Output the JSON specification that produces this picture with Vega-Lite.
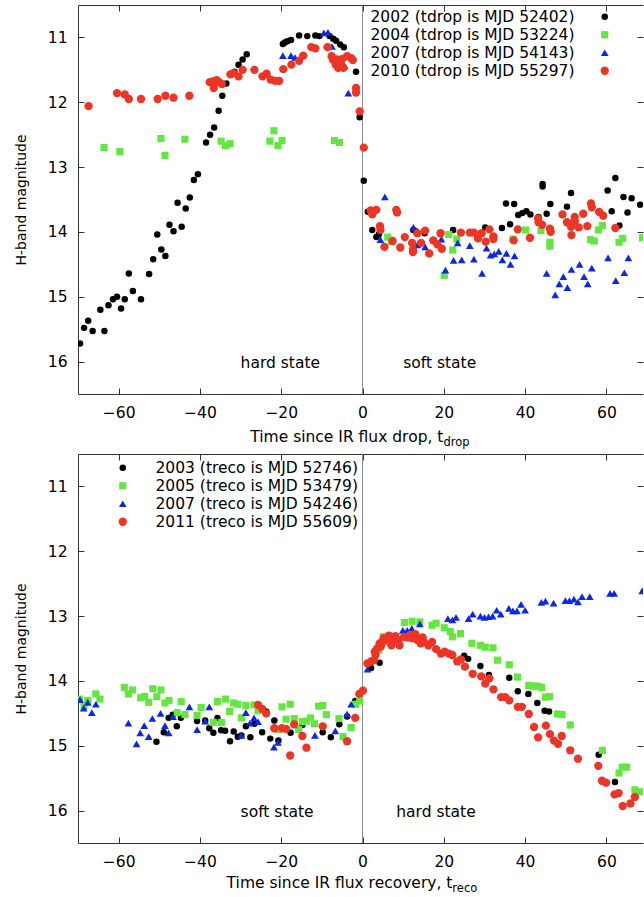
{
"$schema":"https://vega.github.io/schema/vega-lite/v6.json",
"background":"white",
"padding":{"left":14,"top":4,"right":0,"bottom":0},
"config":{
 "font":"DejaVu Sans",
 "view":{"stroke":null},
 "axis":{"labelFont":"DejaVu Sans","labelFontSize":15.5,"labelColor":"#000","domainColor":"#333","tickColor":"#333","tickSize":-6,"labelPadding":17,"grid":false,"titleFont":"DejaVu Sans","titleFontWeight":"normal","titleColor":"#000","titleFontSize":14,"titlePadding":19,"domainWidth":1,"tickWidth":1},
 "legend":{"labelFont":"DejaVu Sans","labelFontSize":15.5,"labelColor":"#000","padding":0,"symbolStrokeWidth":0,"labelLimit":400,"title":null,"symbolSize":45,"rowPadding":1}
},
"datasets":{
"top":[
{"t":-69.5,"mag":15.72,"yr":"2002"},{"t":-68.5,"mag":15.48,"yr":"2002"},{"t":-67.5,"mag":15.37,"yr":"2002"},{"t":-66.4,"mag":15.53,"yr":"2002"},{"t":-64.5,"mag":15.2,"yr":"2002"},{"t":-63.5,"mag":15.53,"yr":"2002"},{"t":-62.5,"mag":15.13,"yr":"2002"},{"t":-61.4,"mag":15.04,"yr":"2002"},{"t":-60.4,"mag":15.0,"yr":"2002"},{"t":-59.4,"mag":15.18,"yr":"2002"},{"t":-58.5,"mag":15.04,"yr":"2002"},{"t":-57.5,"mag":14.64,"yr":"2002"},{"t":-56.5,"mag":14.91,"yr":"2002"},{"t":-54.5,"mag":15.04,"yr":"2002"},{"t":-52.5,"mag":14.65,"yr":"2002"},{"t":-51.5,"mag":14.42,"yr":"2002"},{"t":-50.5,"mag":14.04,"yr":"2002"},{"t":-49.5,"mag":14.27,"yr":"2002"},{"t":-48.5,"mag":14.37,"yr":"2002"},{"t":-47.5,"mag":13.89,"yr":"2002"},{"t":-46.5,"mag":13.99,"yr":"2002"},{"t":-45.5,"mag":13.55,"yr":"2002"},{"t":-44.5,"mag":13.92,"yr":"2002"},{"t":-43.5,"mag":13.64,"yr":"2002"},{"t":-42.5,"mag":13.47,"yr":"2002"},{"t":-41.5,"mag":13.2,"yr":"2002"},{"t":-40.5,"mag":13.11,"yr":"2002"},{"t":-38.5,"mag":12.62,"yr":"2002"},{"t":-37.5,"mag":12.5,"yr":"2002"},{"t":-36.5,"mag":12.39,"yr":"2002"},{"t":-35.4,"mag":12.13,"yr":"2002"},{"t":-34.5,"mag":11.9,"yr":"2002"},{"t":-33.5,"mag":11.71,"yr":"2002"},{"t":-31.5,"mag":11.53,"yr":"2002"},{"t":-30.5,"mag":11.42,"yr":"2002"},{"t":-29.5,"mag":11.34,"yr":"2002"},{"t":-28.5,"mag":11.26,"yr":"2002"},{"t":-19.6,"mag":11.1,"yr":"2002"},{"t":-19.1,"mag":11.08,"yr":"2002"},{"t":-18.5,"mag":11.06,"yr":"2002"},{"t":-17.6,"mag":11.04,"yr":"2002"},{"t":-15.6,"mag":10.97,"yr":"2002"},{"t":-13.6,"mag":10.98,"yr":"2002"},{"t":-11.6,"mag":10.97,"yr":"2002"},{"t":-10.6,"mag":10.98,"yr":"2002"},{"t":-8.1,"mag":10.98,"yr":"2002"},{"t":-7.2,"mag":11.02,"yr":"2002"},{"t":-6.5,"mag":11.05,"yr":"2002"},{"t":-5.5,"mag":11.11,"yr":"2002"},{"t":-4.6,"mag":11.15,"yr":"2002"},{"t":-1.6,"mag":11.53,"yr":"2002"},{"t":-0.7,"mag":12.23,"yr":"2002"},{"t":0.3,"mag":13.21,"yr":"2002"},{"t":1.3,"mag":13.69,"yr":"2002"},{"t":2.4,"mag":13.97,"yr":"2002"},{"t":3.4,"mag":14.08,"yr":"2002"},{"t":4.0,"mag":14.04,"yr":"2002"},{"t":12.5,"mag":13.97,"yr":"2002"},{"t":13.1,"mag":13.99,"yr":"2002"},{"t":15.3,"mag":14.02,"yr":"2002"},{"t":22.3,"mag":13.97,"yr":"2002"},{"t":30.2,"mag":13.93,"yr":"2002"},{"t":34.3,"mag":13.94,"yr":"2002"},{"t":35.3,"mag":13.56,"yr":"2002"},{"t":36.3,"mag":13.88,"yr":"2002"},{"t":37.3,"mag":13.57,"yr":"2002"},{"t":38.3,"mag":13.74,"yr":"2002"},{"t":39.3,"mag":13.71,"yr":"2002"},{"t":40.3,"mag":13.68,"yr":"2002"},{"t":41.3,"mag":13.73,"yr":"2002"},{"t":43.3,"mag":13.77,"yr":"2002"},{"t":44.3,"mag":13.26,"yr":"2002"},{"t":44.3,"mag":13.3,"yr":"2002"},{"t":45.3,"mag":13.72,"yr":"2002"},{"t":46.2,"mag":13.57,"yr":"2002"},{"t":50.3,"mag":13.61,"yr":"2002"},{"t":51.3,"mag":13.4,"yr":"2002"},{"t":52.3,"mag":13.83,"yr":"2002"},{"t":60.3,"mag":13.36,"yr":"2002"},{"t":61.3,"mag":13.68,"yr":"2002"},{"t":62.2,"mag":13.17,"yr":"2002"},{"t":63.2,"mag":13.9,"yr":"2002"},{"t":64.2,"mag":13.46,"yr":"2002"},{"t":65.2,"mag":13.7,"yr":"2002"},{"t":66.2,"mag":13.48,"yr":"2002"},{"t":68.3,"mag":13.58,"yr":"2002"},
{"t":-63.6,"mag":12.7,"yr":"2004"},{"t":-59.7,"mag":12.76,"yr":"2004"},{"t":-49.6,"mag":12.56,"yr":"2004"},{"t":-48.6,"mag":12.82,"yr":"2004"},{"t":-43.7,"mag":12.57,"yr":"2004"},{"t":-34.8,"mag":12.6,"yr":"2004"},{"t":-33.7,"mag":12.67,"yr":"2004"},{"t":-32.6,"mag":12.64,"yr":"2004"},{"t":-22.8,"mag":12.6,"yr":"2004"},{"t":-21.8,"mag":12.44,"yr":"2004"},{"t":-20.8,"mag":12.67,"yr":"2004"},{"t":-19.8,"mag":12.59,"yr":"2004"},{"t":-6.9,"mag":12.59,"yr":"2004"},{"t":-5.7,"mag":12.62,"yr":"2004"},{"t":6.2,"mag":14.08,"yr":"2004"},{"t":7.1,"mag":14.15,"yr":"2004"},{"t":20.1,"mag":14.67,"yr":"2004"},{"t":21.2,"mag":14.04,"yr":"2004"},{"t":22.2,"mag":14.28,"yr":"2004"},{"t":23.2,"mag":14.11,"yr":"2004"},{"t":37.0,"mag":14.11,"yr":"2004"},{"t":40.1,"mag":13.97,"yr":"2004"},{"t":43.9,"mag":13.98,"yr":"2004"},{"t":46.1,"mag":14.16,"yr":"2004"},{"t":46.1,"mag":14.22,"yr":"2004"},{"t":56.1,"mag":14.12,"yr":"2004"},{"t":57.0,"mag":14.14,"yr":"2004"},{"t":58.0,"mag":13.97,"yr":"2004"},{"t":59.0,"mag":13.9,"yr":"2004"},{"t":63.1,"mag":14.16,"yr":"2004"},{"t":64.0,"mag":14.1,"yr":"2004"},{"t":68.9,"mag":14.09,"yr":"2004"},
{"t":-19.6,"mag":11.28,"yr":"2007"},{"t":-17.6,"mag":11.28,"yr":"2007"},{"t":-16.6,"mag":11.31,"yr":"2007"},{"t":-9.5,"mag":10.93,"yr":"2007"},{"t":-8.5,"mag":10.92,"yr":"2007"},{"t":-7.5,"mag":11.14,"yr":"2007"},{"t":-4.4,"mag":11.44,"yr":"2007"},{"t":-3.5,"mag":11.86,"yr":"2007"},{"t":4.4,"mag":14.12,"yr":"2007"},{"t":5.5,"mag":13.46,"yr":"2007"},{"t":12.5,"mag":13.93,"yr":"2007"},{"t":13.5,"mag":14.2,"yr":"2007"},{"t":15.4,"mag":14.23,"yr":"2007"},{"t":19.4,"mag":14.11,"yr":"2007"},{"t":20.4,"mag":14.59,"yr":"2007"},{"t":22.4,"mag":14.44,"yr":"2007"},{"t":23.4,"mag":14.17,"yr":"2007"},{"t":24.4,"mag":14.43,"yr":"2007"},{"t":26.4,"mag":14.21,"yr":"2007"},{"t":27.4,"mag":14.42,"yr":"2007"},{"t":29.4,"mag":14.64,"yr":"2007"},{"t":30.5,"mag":14.25,"yr":"2007"},{"t":31.5,"mag":14.36,"yr":"2007"},{"t":32.4,"mag":14.34,"yr":"2007"},{"t":33.5,"mag":14.3,"yr":"2007"},{"t":34.4,"mag":14.43,"yr":"2007"},{"t":35.4,"mag":14.33,"yr":"2007"},{"t":36.4,"mag":14.5,"yr":"2007"},{"t":37.4,"mag":14.37,"yr":"2007"},{"t":45.3,"mag":14.64,"yr":"2007"},{"t":47.4,"mag":14.97,"yr":"2007"},{"t":48.4,"mag":14.8,"yr":"2007"},{"t":49.4,"mag":14.69,"yr":"2007"},{"t":50.4,"mag":14.86,"yr":"2007"},{"t":51.4,"mag":14.58,"yr":"2007"},{"t":53.4,"mag":14.5,"yr":"2007"},{"t":54.5,"mag":14.69,"yr":"2007"},{"t":55.4,"mag":14.8,"yr":"2007"},{"t":56.4,"mag":14.56,"yr":"2007"},{"t":60.4,"mag":14.4,"yr":"2007"},{"t":62.3,"mag":14.75,"yr":"2007"},{"t":64.4,"mag":14.63,"yr":"2007"},{"t":65.4,"mag":14.4,"yr":"2007"},
{"t":-67.4,"mag":12.06,"yr":"2010"},{"t":-60.4,"mag":11.86,"yr":"2010"},{"t":-58.5,"mag":11.88,"yr":"2010"},{"t":-57.5,"mag":11.95,"yr":"2010"},{"t":-54.5,"mag":11.95,"yr":"2010"},{"t":-50.4,"mag":11.95,"yr":"2010"},{"t":-48.5,"mag":11.9,"yr":"2010"},{"t":-46.5,"mag":11.93,"yr":"2010"},{"t":-42.6,"mag":11.9,"yr":"2010"},{"t":-37.6,"mag":11.69,"yr":"2010"},{"t":-36.8,"mag":11.68,"yr":"2010"},{"t":-36.6,"mag":11.78,"yr":"2010"},{"t":-35.9,"mag":11.66,"yr":"2010"},{"t":-35.3,"mag":11.69,"yr":"2010"},{"t":-34.6,"mag":11.72,"yr":"2010"},{"t":-32.5,"mag":11.57,"yr":"2010"},{"t":-31.7,"mag":11.55,"yr":"2010"},{"t":-30.5,"mag":11.6,"yr":"2010"},{"t":-29.5,"mag":11.5,"yr":"2010"},{"t":-26.6,"mag":11.5,"yr":"2010"},{"t":-24.6,"mag":11.6,"yr":"2010"},{"t":-23.6,"mag":11.56,"yr":"2010"},{"t":-22.6,"mag":11.65,"yr":"2010"},{"t":-21.5,"mag":11.67,"yr":"2010"},{"t":-20.5,"mag":11.67,"yr":"2010"},{"t":-19.5,"mag":11.49,"yr":"2010"},{"t":-17.5,"mag":11.42,"yr":"2010"},{"t":-15.6,"mag":11.36,"yr":"2010"},{"t":-14.6,"mag":11.28,"yr":"2010"},{"t":-12.6,"mag":11.15,"yr":"2010"},{"t":-11.6,"mag":11.17,"yr":"2010"},{"t":-8.6,"mag":11.15,"yr":"2010"},{"t":-7.6,"mag":11.29,"yr":"2010"},{"t":-7.3,"mag":11.34,"yr":"2010"},{"t":-6.6,"mag":11.42,"yr":"2010"},{"t":-6.3,"mag":11.34,"yr":"2010"},{"t":-6.0,"mag":11.47,"yr":"2010"},{"t":-5.4,"mag":11.39,"yr":"2010"},{"t":-5.0,"mag":11.33,"yr":"2010"},{"t":-4.7,"mag":11.47,"yr":"2010"},{"t":-3.8,"mag":11.29,"yr":"2010"},{"t":-2.8,"mag":11.32,"yr":"2010"},{"t":-2.4,"mag":11.35,"yr":"2010"},{"t":-1.6,"mag":11.78,"yr":"2010"},{"t":-1.6,"mag":11.85,"yr":"2010"},{"t":-0.7,"mag":12.14,"yr":"2010"},{"t":0.3,"mag":12.7,"yr":"2010"},{"t":2.0,"mag":13.67,"yr":"2010"},{"t":2.4,"mag":13.73,"yr":"2010"},{"t":3.4,"mag":13.66,"yr":"2010"},{"t":4.3,"mag":13.91,"yr":"2010"},{"t":4.4,"mag":13.97,"yr":"2010"},{"t":5.4,"mag":14.23,"yr":"2010"},{"t":7.4,"mag":14.14,"yr":"2010"},{"t":8.3,"mag":13.66,"yr":"2010"},{"t":8.5,"mag":13.7,"yr":"2010"},{"t":9.3,"mag":14.24,"yr":"2010"},{"t":10.4,"mag":14.08,"yr":"2010"},{"t":12.2,"mag":14.17,"yr":"2010"},{"t":12.4,"mag":14.27,"yr":"2010"},{"t":12.4,"mag":14.31,"yr":"2010"},{"t":13.5,"mag":14.02,"yr":"2010"},{"t":14.4,"mag":14.17,"yr":"2010"},{"t":15.4,"mag":13.98,"yr":"2010"},{"t":16.4,"mag":14.33,"yr":"2010"},{"t":17.4,"mag":14.13,"yr":"2010"},{"t":18.4,"mag":14.19,"yr":"2010"},{"t":19.2,"mag":14.02,"yr":"2010"},{"t":19.5,"mag":14.26,"yr":"2010"},{"t":24.2,"mag":14.01,"yr":"2010"},{"t":26.4,"mag":14.01,"yr":"2010"},{"t":27.4,"mag":14.01,"yr":"2010"},{"t":28.4,"mag":14.1,"yr":"2010"},{"t":29.3,"mag":14.02,"yr":"2010"},{"t":30.3,"mag":14.15,"yr":"2010"},{"t":31.2,"mag":13.96,"yr":"2010"},{"t":32.2,"mag":14.07,"yr":"2010"},{"t":32.2,"mag":14.11,"yr":"2010"},{"t":37.2,"mag":14.13,"yr":"2010"},{"t":38.2,"mag":13.96,"yr":"2010"},{"t":41.2,"mag":14.09,"yr":"2010"},{"t":43.2,"mag":13.79,"yr":"2010"},{"t":43.3,"mag":13.85,"yr":"2010"},{"t":44.2,"mag":13.89,"yr":"2010"},{"t":46.1,"mag":13.95,"yr":"2010"},{"t":46.3,"mag":14.0,"yr":"2010"},{"t":49.2,"mag":13.73,"yr":"2010"},{"t":50.3,"mag":13.85,"yr":"2010"},{"t":51.3,"mag":13.92,"yr":"2010"},{"t":51.4,"mag":14.05,"yr":"2010"},{"t":52.2,"mag":13.77,"yr":"2010"},{"t":52.2,"mag":13.83,"yr":"2010"},{"t":53.2,"mag":13.93,"yr":"2010"},{"t":54.3,"mag":13.72,"yr":"2010"},{"t":55.3,"mag":13.91,"yr":"2010"},{"t":56.2,"mag":13.56,"yr":"2010"},{"t":56.4,"mag":13.62,"yr":"2010"},{"t":58.2,"mag":13.69,"yr":"2010"},{"t":59.2,"mag":13.75,"yr":"2010"},{"t":62.2,"mag":13.94,"yr":"2010"}
],
"bottom":[
{"t":-50.7,"mag":14.94,"yr":"2003"},{"t":-48.9,"mag":14.79,"yr":"2003"},{"t":-47.7,"mag":14.57,"yr":"2003"},{"t":-46.7,"mag":14.52,"yr":"2003"},{"t":-45.7,"mag":14.7,"yr":"2003"},{"t":-44.7,"mag":14.57,"yr":"2003"},{"t":-40.7,"mag":14.62,"yr":"2003"},{"t":-38.7,"mag":14.61,"yr":"2003"},{"t":-37.7,"mag":14.73,"yr":"2003"},{"t":-36.7,"mag":14.8,"yr":"2003"},{"t":-35.7,"mag":14.57,"yr":"2003"},{"t":-34.8,"mag":14.76,"yr":"2003"},{"t":-33.8,"mag":14.77,"yr":"2003"},{"t":-32.6,"mag":14.93,"yr":"2003"},{"t":-31.7,"mag":14.78,"yr":"2003"},{"t":-30.7,"mag":14.86,"yr":"2003"},{"t":-29.8,"mag":14.84,"yr":"2003"},{"t":-28.7,"mag":14.7,"yr":"2003"},{"t":-27.6,"mag":14.87,"yr":"2003"},{"t":-26.6,"mag":14.66,"yr":"2003"},{"t":-24.7,"mag":14.79,"yr":"2003"},{"t":-23.7,"mag":14.47,"yr":"2003"},{"t":-22.7,"mag":14.89,"yr":"2003"},{"t":-21.7,"mag":14.61,"yr":"2003"},{"t":-20.7,"mag":14.92,"yr":"2003"},{"t":-17.7,"mag":14.8,"yr":"2003"},{"t":-14.8,"mag":14.68,"yr":"2003"},{"t":-9.8,"mag":14.79,"yr":"2003"},{"t":-7.8,"mag":14.87,"yr":"2003"},{"t":-5.7,"mag":14.67,"yr":"2003"},{"t":-3.8,"mag":14.55,"yr":"2003"},{"t":-1.8,"mag":14.31,"yr":"2003"},{"t":2.1,"mag":13.8,"yr":"2003"},{"t":4.2,"mag":13.72,"yr":"2003"},{"t":25.0,"mag":13.61,"yr":"2003"},{"t":26.0,"mag":13.66,"yr":"2003"},{"t":29.0,"mag":13.77,"yr":"2003"},{"t":31.1,"mag":13.91,"yr":"2003"},{"t":36.1,"mag":13.95,"yr":"2003"},{"t":38.2,"mag":14.16,"yr":"2003"},{"t":40.8,"mag":14.2,"yr":"2003"},{"t":43.0,"mag":14.34,"yr":"2003"},{"t":44.8,"mag":14.46,"yr":"2003"},{"t":45.9,"mag":14.47,"yr":"2003"},{"t":58.1,"mag":15.14,"yr":"2003"},{"t":62.1,"mag":15.56,"yr":"2003"},
{"t":-69.6,"mag":14.28,"yr":"2005"},{"t":-68.5,"mag":14.39,"yr":"2005"},{"t":-67.6,"mag":14.3,"yr":"2005"},{"t":-65.6,"mag":14.2,"yr":"2005"},{"t":-64.6,"mag":14.28,"yr":"2005"},{"t":-58.6,"mag":14.1,"yr":"2005"},{"t":-57.6,"mag":14.2,"yr":"2005"},{"t":-56.6,"mag":14.14,"yr":"2005"},{"t":-54.6,"mag":14.26,"yr":"2005"},{"t":-53.6,"mag":14.24,"yr":"2005"},{"t":-52.6,"mag":14.33,"yr":"2005"},{"t":-51.6,"mag":14.12,"yr":"2005"},{"t":-50.6,"mag":14.24,"yr":"2005"},{"t":-49.6,"mag":14.14,"yr":"2005"},{"t":-48.6,"mag":14.34,"yr":"2005"},{"t":-47.6,"mag":14.3,"yr":"2005"},{"t":-45.6,"mag":14.49,"yr":"2005"},{"t":-44.6,"mag":14.32,"yr":"2005"},{"t":-43.7,"mag":14.52,"yr":"2005"},{"t":-40.7,"mag":14.53,"yr":"2005"},{"t":-39.7,"mag":14.41,"yr":"2005"},{"t":-36.7,"mag":14.64,"yr":"2005"},{"t":-35.7,"mag":14.32,"yr":"2005"},{"t":-34.7,"mag":14.64,"yr":"2005"},{"t":-33.7,"mag":14.28,"yr":"2005"},{"t":-32.7,"mag":14.47,"yr":"2005"},{"t":-31.7,"mag":14.34,"yr":"2005"},{"t":-30.7,"mag":14.36,"yr":"2005"},{"t":-29.8,"mag":14.57,"yr":"2005"},{"t":-28.7,"mag":14.38,"yr":"2005"},{"t":-26.7,"mag":14.37,"yr":"2005"},{"t":-25.7,"mag":14.46,"yr":"2005"},{"t":-20.8,"mag":14.75,"yr":"2005"},{"t":-19.8,"mag":14.4,"yr":"2005"},{"t":-18.8,"mag":14.59,"yr":"2005"},{"t":-17.8,"mag":14.36,"yr":"2005"},{"t":-16.8,"mag":14.58,"yr":"2005"},{"t":-15.7,"mag":14.75,"yr":"2005"},{"t":-14.8,"mag":14.63,"yr":"2005"},{"t":-13.8,"mag":14.62,"yr":"2005"},{"t":-12.8,"mag":14.57,"yr":"2005"},{"t":-11.8,"mag":14.66,"yr":"2005"},{"t":-10.8,"mag":14.39,"yr":"2005"},{"t":-9.8,"mag":14.38,"yr":"2005"},{"t":-8.9,"mag":14.52,"yr":"2005"},{"t":-5.8,"mag":14.58,"yr":"2005"},{"t":-4.8,"mag":14.86,"yr":"2005"},{"t":-2.8,"mag":14.72,"yr":"2005"},{"t":-1.7,"mag":14.36,"yr":"2005"},{"t":-0.7,"mag":14.31,"yr":"2005"},{"t":4.0,"mag":13.53,"yr":"2005"},{"t":4.4,"mag":13.45,"yr":"2005"},{"t":5.1,"mag":13.32,"yr":"2005"},{"t":10.3,"mag":13.1,"yr":"2005"},{"t":12.2,"mag":13.08,"yr":"2005"},{"t":14.1,"mag":13.09,"yr":"2005"},{"t":17.1,"mag":13.14,"yr":"2005"},{"t":18.1,"mag":13.11,"yr":"2005"},{"t":20.1,"mag":13.18,"yr":"2005"},{"t":21.6,"mag":13.24,"yr":"2005"},{"t":22.1,"mag":13.32,"yr":"2005"},{"t":24.1,"mag":13.27,"yr":"2005"},{"t":26.9,"mag":13.42,"yr":"2005"},{"t":29.0,"mag":13.45,"yr":"2005"},{"t":30.2,"mag":13.48,"yr":"2005"},{"t":32.1,"mag":13.49,"yr":"2005"},{"t":33.2,"mag":13.68,"yr":"2005"},{"t":36.1,"mag":13.75,"yr":"2005"},{"t":38.1,"mag":13.94,"yr":"2005"},{"t":40.9,"mag":14.07,"yr":"2005"},{"t":42.0,"mag":14.08,"yr":"2005"},{"t":43.0,"mag":14.08,"yr":"2005"},{"t":44.0,"mag":14.1,"yr":"2005"},{"t":45.0,"mag":14.25,"yr":"2005"},{"t":46.0,"mag":14.24,"yr":"2005"},{"t":48.0,"mag":14.51,"yr":"2005"},{"t":49.1,"mag":14.52,"yr":"2005"},{"t":51.1,"mag":14.68,"yr":"2005"},{"t":59.0,"mag":15.07,"yr":"2005"},{"t":63.1,"mag":15.42,"yr":"2005"},{"t":63.9,"mag":15.33,"yr":"2005"},{"t":65.0,"mag":15.33,"yr":"2005"},{"t":67.0,"mag":15.68,"yr":"2005"},{"t":68.1,"mag":15.71,"yr":"2005"},
{"t":-69.5,"mag":14.29,"yr":"2007"},{"t":-68.6,"mag":14.42,"yr":"2007"},{"t":-67.6,"mag":14.33,"yr":"2007"},{"t":-66.6,"mag":14.49,"yr":"2007"},{"t":-65.6,"mag":14.36,"yr":"2007"},{"t":-57.6,"mag":14.65,"yr":"2007"},{"t":-55.6,"mag":14.97,"yr":"2007"},{"t":-54.7,"mag":14.8,"yr":"2007"},{"t":-53.7,"mag":14.69,"yr":"2007"},{"t":-52.6,"mag":14.86,"yr":"2007"},{"t":-51.7,"mag":14.58,"yr":"2007"},{"t":-49.7,"mag":14.5,"yr":"2007"},{"t":-48.6,"mag":14.69,"yr":"2007"},{"t":-47.7,"mag":14.8,"yr":"2007"},{"t":-46.6,"mag":14.55,"yr":"2007"},{"t":-42.6,"mag":14.4,"yr":"2007"},{"t":-40.7,"mag":14.75,"yr":"2007"},{"t":-38.7,"mag":14.62,"yr":"2007"},{"t":-37.7,"mag":14.4,"yr":"2007"},{"t":-29.8,"mag":14.84,"yr":"2007"},{"t":-28.7,"mag":14.49,"yr":"2007"},{"t":-27.7,"mag":14.65,"yr":"2007"},{"t":-26.7,"mag":14.57,"yr":"2007"},{"t":-25.7,"mag":14.63,"yr":"2007"},{"t":-21.8,"mag":15.02,"yr":"2007"},{"t":-20.8,"mag":14.95,"yr":"2007"},{"t":-11.7,"mag":14.84,"yr":"2007"},{"t":-6.7,"mag":14.77,"yr":"2007"},{"t":-3.8,"mag":14.51,"yr":"2007"},{"t":-2.8,"mag":14.36,"yr":"2007"},{"t":1.2,"mag":13.82,"yr":"2007"},{"t":7.3,"mag":13.38,"yr":"2007"},{"t":9.9,"mag":13.22,"yr":"2007"},{"t":11.0,"mag":13.22,"yr":"2007"},{"t":12.1,"mag":13.19,"yr":"2007"},{"t":14.1,"mag":13.12,"yr":"2007"},{"t":21.0,"mag":13.04,"yr":"2007"},{"t":22.1,"mag":13.06,"yr":"2007"},{"t":23.0,"mag":13.02,"yr":"2007"},{"t":26.1,"mag":13.04,"yr":"2007"},{"t":27.1,"mag":12.97,"yr":"2007"},{"t":29.0,"mag":13.0,"yr":"2007"},{"t":30.0,"mag":13.02,"yr":"2007"},{"t":31.0,"mag":13.01,"yr":"2007"},{"t":32.0,"mag":13.0,"yr":"2007"},{"t":33.0,"mag":12.91,"yr":"2007"},{"t":34.0,"mag":12.97,"yr":"2007"},{"t":36.0,"mag":12.88,"yr":"2007"},{"t":37.0,"mag":12.92,"yr":"2007"},{"t":38.0,"mag":12.92,"yr":"2007"},{"t":39.0,"mag":12.82,"yr":"2007"},{"t":40.0,"mag":12.91,"yr":"2007"},{"t":44.0,"mag":12.79,"yr":"2007"},{"t":45.0,"mag":12.77,"yr":"2007"},{"t":47.0,"mag":12.8,"yr":"2007"},{"t":49.9,"mag":12.76,"yr":"2007"},{"t":50.9,"mag":12.76,"yr":"2007"},{"t":52.0,"mag":12.74,"yr":"2007"},{"t":53.0,"mag":12.78,"yr":"2007"},{"t":54.0,"mag":12.7,"yr":"2007"},{"t":55.9,"mag":12.7,"yr":"2007"},{"t":60.9,"mag":12.65,"yr":"2007"},{"t":61.9,"mag":12.65,"yr":"2007"},{"t":68.8,"mag":12.61,"yr":"2007"},
{"t":-25.7,"mag":14.37,"yr":"2011"},{"t":-24.7,"mag":14.43,"yr":"2011"},{"t":-23.7,"mag":14.5,"yr":"2011"},{"t":-21.7,"mag":14.73,"yr":"2011"},{"t":-19.8,"mag":14.73,"yr":"2011"},{"t":-18.8,"mag":14.74,"yr":"2011"},{"t":-17.8,"mag":15.15,"yr":"2011"},{"t":-16.8,"mag":14.67,"yr":"2011"},{"t":-14.8,"mag":14.85,"yr":"2011"},{"t":-13.8,"mag":15.03,"yr":"2011"},{"t":-9.8,"mag":14.7,"yr":"2011"},{"t":-3.8,"mag":14.93,"yr":"2011"},{"t":-1.8,"mag":14.57,"yr":"2011"},{"t":-0.8,"mag":14.2,"yr":"2011"},{"t":0.1,"mag":14.15,"yr":"2011"},{"t":1.2,"mag":13.73,"yr":"2011"},{"t":2.1,"mag":13.7,"yr":"2011"},{"t":2.8,"mag":13.68,"yr":"2011"},{"t":3.0,"mag":13.55,"yr":"2011"},{"t":3.2,"mag":13.6,"yr":"2011"},{"t":3.6,"mag":13.5,"yr":"2011"},{"t":4.2,"mag":13.42,"yr":"2011"},{"t":4.5,"mag":13.47,"yr":"2011"},{"t":4.8,"mag":13.4,"yr":"2011"},{"t":5.2,"mag":13.34,"yr":"2011"},{"t":5.5,"mag":13.38,"yr":"2011"},{"t":6.1,"mag":13.34,"yr":"2011"},{"t":6.5,"mag":13.3,"yr":"2011"},{"t":7.1,"mag":13.45,"yr":"2011"},{"t":7.3,"mag":13.33,"yr":"2011"},{"t":8.1,"mag":13.31,"yr":"2011"},{"t":8.8,"mag":13.38,"yr":"2011"},{"t":9.1,"mag":13.45,"yr":"2011"},{"t":10.2,"mag":13.32,"yr":"2011"},{"t":11.2,"mag":13.33,"yr":"2011"},{"t":11.7,"mag":13.29,"yr":"2011"},{"t":12.2,"mag":13.34,"yr":"2011"},{"t":13.0,"mag":13.28,"yr":"2011"},{"t":13.5,"mag":13.37,"yr":"2011"},{"t":14.3,"mag":13.42,"yr":"2011"},{"t":14.8,"mag":13.33,"yr":"2011"},{"t":15.1,"mag":13.4,"yr":"2011"},{"t":16.2,"mag":13.45,"yr":"2011"},{"t":17.1,"mag":13.4,"yr":"2011"},{"t":18.1,"mag":13.51,"yr":"2011"},{"t":19.3,"mag":13.58,"yr":"2011"},{"t":20.2,"mag":13.55,"yr":"2011"},{"t":21.2,"mag":13.58,"yr":"2011"},{"t":22.1,"mag":13.6,"yr":"2011"},{"t":23.3,"mag":13.7,"yr":"2011"},{"t":24.2,"mag":13.67,"yr":"2011"},{"t":25.2,"mag":13.78,"yr":"2011"},{"t":27.1,"mag":13.89,"yr":"2011"},{"t":29.2,"mag":13.93,"yr":"2011"},{"t":30.2,"mag":14.04,"yr":"2011"},{"t":31.2,"mag":13.96,"yr":"2011"},{"t":32.2,"mag":14.13,"yr":"2011"},{"t":34.1,"mag":14.25,"yr":"2011"},{"t":35.1,"mag":14.25,"yr":"2011"},{"t":36.1,"mag":14.3,"yr":"2011"},{"t":38.2,"mag":14.4,"yr":"2011"},{"t":39.2,"mag":14.4,"yr":"2011"},{"t":40.9,"mag":14.51,"yr":"2011"},{"t":42.2,"mag":14.71,"yr":"2011"},{"t":43.2,"mag":14.87,"yr":"2011"},{"t":45.1,"mag":14.69,"yr":"2011"},{"t":46.1,"mag":14.82,"yr":"2011"},{"t":47.1,"mag":14.92,"yr":"2011"},{"t":48.1,"mag":14.97,"yr":"2011"},{"t":49.0,"mag":14.85,"yr":"2011"},{"t":51.1,"mag":15.07,"yr":"2011"},{"t":53.0,"mag":15.2,"yr":"2011"},{"t":58.0,"mag":15.31,"yr":"2011"},{"t":58.9,"mag":15.54,"yr":"2011"},{"t":59.9,"mag":15.57,"yr":"2011"},{"t":62.0,"mag":15.75,"yr":"2011"},{"t":63.0,"mag":15.73,"yr":"2011"},{"t":64.0,"mag":15.93,"yr":"2011"},{"t":65.9,"mag":15.89,"yr":"2011"},{"t":67.0,"mag":15.79,"yr":"2011"}
]
},
"spacing":4,
"resolve":{"scale":{"x":"independent","y":"independent","color":"independent","shape":"independent","size":"independent"},"legend":{"color":"independent","shape":"independent"}},
"vconcat":[
{
 "width":565,"height":389,
 "resolve":{"axis":{"x":"independent","y":"independent"}},
 "layer":[
  {"data":{"values":[{}]},"mark":{"type":"rule","color":"#8c8c8c","strokeWidth":1},"encoding":{"x":{"datum":0,"axis":null}}},
  {"data":{"name":"top"},"mark":{"type":"point","filled":true,"opacity":1,"clip":true,"strokeWidth":0},
   "encoding":{
    "x":{"field":"t","type":"quantitative","scale":{"domain":[-70,69],"nice":false,"zero":false},"axis":{"orient":"bottom","values":[-60,-40,-20,0,20,40,60],"title":null}},
    "y":{"field":"mag","type":"quantitative","scale":{"domain":[10.5,16.5],"reverse":true,"nice":false,"zero":false},"axis":{"orient":"left","values":[11,12,13,14,15,16],"title":"H-band magnitude"}},
    "color":{"field":"yr","type":"nominal","scale":{"domain":["2002","2004","2007","2010"],"range":["#000000","#63e63f","#0b27e8","#ee3424"]},"legend":{"orient":"none","legendX":519,"legendY":4,"labelAlign":"right","labelOffset":-38,"labelExpr":"datum.label == '2002' ? '2002 (tdrop is MJD 52402)' : datum.label == '2004' ? '2004 (tdrop is MJD 53224)' : datum.label == '2007' ? '2007 (tdrop is MJD 54143)' : '2010 (tdrop is MJD 55297)'"}},
    "shape":{"field":"yr","type":"nominal","scale":{"domain":["2002","2004","2007","2010"],"range":["circle","square","triangle-up","circle"]},"legend":{"orient":"none","legendX":519,"legendY":4,"labelAlign":"right","labelOffset":-38,"labelExpr":"datum.label == '2002' ? '2002 (tdrop is MJD 52402)' : datum.label == '2004' ? '2004 (tdrop is MJD 53224)' : datum.label == '2007' ? '2007 (tdrop is MJD 54143)' : '2010 (tdrop is MJD 55297)'"}},
    "size":{"field":"yr","type":"ordinal","scale":{"domain":["2002","2004","2007","2010"],"range":[42,69,30,47]},"legend":null}
   }},
  {"data":{"values":[{"t":-30,"mag":16.1,"label":"hard state"},{"t":10,"mag":16.1,"label":"soft state"}]},
   "mark":{"type":"text","align":"left","baseline":"alphabetic","fontSize":15.5,"color":"#000"},
   "encoding":{
    "x":{"field":"t","type":"quantitative","axis":{"orient":"top","labels":false,"title":null,"values":[-60,-40,-20,0,20,40,60]}},
    "y":{"field":"mag","type":"quantitative","axis":{"orient":"right","labels":false,"domain":false,"title":null,"values":[11,12,13,14,15,16]}},
    "text":{"field":"label"}}},
  {"data":{"values":[{}]},"mark":{"type":"text","align":"right","baseline":"alphabetic","fontSize":15.5,"color":"#000","dy":48},"encoding":{"x":{"datum":19.9,"axis":null},"y":{"datum":16.5,"axis":null},"text":{"value":"Time since IR flux drop, t"}}},
  {"data":{"values":[{}]},"mark":{"type":"text","align":"left","baseline":"alphabetic","fontSize":11.5,"color":"#000","dy":52},"encoding":{"x":{"datum":19.9,"axis":null},"y":{"datum":16.5,"axis":null},"text":{"value":"drop"}}}
 ]
},
{
 "width":565,"height":389,
 "resolve":{"axis":{"x":"independent","y":"independent"}},
 "layer":[
  {"data":{"values":[{}]},"mark":{"type":"rule","color":"#8c8c8c","strokeWidth":1},"encoding":{"x":{"datum":0,"axis":null}}},
  {"data":{"name":"bottom"},"mark":{"type":"point","filled":true,"opacity":1,"clip":true,"strokeWidth":0},
   "encoding":{
    "x":{"field":"t","type":"quantitative","scale":{"domain":[-70,69],"nice":false,"zero":false},"axis":{"orient":"bottom","values":[-60,-40,-20,0,20,40,60],"title":null}},
    "y":{"field":"mag","type":"quantitative","scale":{"domain":[10.5,16.5],"reverse":true,"nice":false,"zero":false},"axis":{"orient":"left","values":[11,12,13,14,15,16],"title":"H-band magnitude"}},
    "color":{"field":"yr","type":"nominal","scale":{"domain":["2003","2005","2007","2011"],"range":["#000000","#63e63f","#0b27e8","#ee3424"]},"legend":{"orient":"none","legendX":37,"legendY":6,"labelOffset":25,"labelExpr":"datum.label == '2003' ? '2003 (treco is MJD 52746)' : datum.label == '2005' ? '2005 (treco is MJD 53479)' : datum.label == '2007' ? '2007 (treco is MJD 54246)' : '2011 (treco is MJD 55609)'"}},
    "shape":{"field":"yr","type":"nominal","scale":{"domain":["2003","2005","2007","2011"],"range":["circle","square","triangle-up","circle"]},"legend":{"orient":"none","legendX":37,"legendY":6,"labelOffset":25,"labelExpr":"datum.label == '2003' ? '2003 (treco is MJD 52746)' : datum.label == '2005' ? '2005 (treco is MJD 53479)' : datum.label == '2007' ? '2007 (treco is MJD 54246)' : '2011 (treco is MJD 55609)'"}},
    "size":{"field":"yr","type":"ordinal","scale":{"domain":["2003","2005","2007","2011"],"range":[42,69,30,47]},"legend":null}
   }},
  {"data":{"values":[{"t":-30,"mag":16.1,"label":"soft state"},{"t":8.3,"mag":16.1,"label":"hard state"}]},
   "mark":{"type":"text","align":"left","baseline":"alphabetic","fontSize":15.5,"color":"#000"},
   "encoding":{
    "x":{"field":"t","type":"quantitative","axis":{"orient":"top","labels":false,"title":null,"values":[-60,-40,-20,0,20,40,60]}},
    "y":{"field":"mag","type":"quantitative","axis":{"orient":"right","labels":false,"domain":false,"title":null,"values":[11,12,13,14,15,16]}},
    "text":{"field":"label"}}},
  {"data":{"values":[{}]},"mark":{"type":"text","align":"right","baseline":"alphabetic","fontSize":15.5,"color":"#000","dy":45},"encoding":{"x":{"datum":22.1,"axis":null},"y":{"datum":16.5,"axis":null},"text":{"value":"Time since IR flux recovery, t"}}},
  {"data":{"values":[{}]},"mark":{"type":"text","align":"left","baseline":"alphabetic","fontSize":11.5,"color":"#000","dy":49},"encoding":{"x":{"datum":22.1,"axis":null},"y":{"datum":16.5,"axis":null},"text":{"value":"reco"}}}
 ]
}
]
}
